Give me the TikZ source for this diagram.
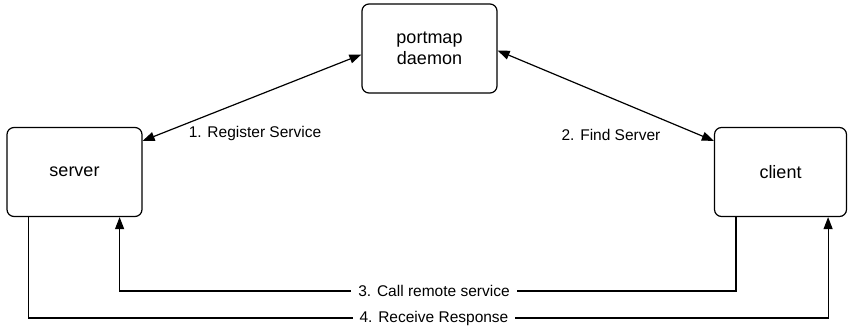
\documentclass[tikz,border=0pt]{standalone}
\usepackage{fontspec}
\setmainfont{Liberation Sans}
\usetikzlibrary{arrows.meta,positioning,calc}

\begin{document}
\begin{tikzpicture}[
  x=1pt,y=-1pt,
  proc/.style={draw,rounded corners=7pt,line width=1.2pt,minimum width=135pt,minimum height=89pt,align=center,font=\fontsize{18}{21}\selectfont},
  arr/.style={-{Triangle[length=12pt,width=9pt]},line width=1.2pt},
  darr/.style={{Triangle[length=12pt,width=9pt]}-{Triangle[length=12pt,width=9pt]},line width=1.2pt},
  ann/.style={font=\fontsize{15.5}{18}\selectfont},
  gap/.style={ann,fill=white,inner xsep=7pt}
]
\useasboundingbox (0,0) rectangle (848,327);
\node[proc] (pm) at (429.5,48.5) {portmap\\daemon};
\node[proc] (srv) at (74.5,172) {server};
\node[proc,minimum width=132pt] (cli) at (780.5,172) {client};
\draw[darr] ([yshift=-6pt]pm.west) -- ([yshift=-14pt]srv.north east);
\draw[darr] ([yshift=-2pt]pm.east) -- ([yshift=-14pt]cli.north west);
\node[ann] (lreg) at (255,133) {1. Register Service};
\node[ann] (lfind) at (611,135) {2. Find Server};
% request and reply under the boxes
\coordinate (call) at (434,291);
\coordinate (resp) at (434,318);
\draw[arr] ([xshift=22pt]cli.south west) |- (call) node[gap] (lcall) {3. Call remote service} -| ([xshift=-23pt]srv.south east);
\draw[arr] ([xshift=22pt]srv.south west) |- (resp) node[gap] (lresp) {4. Receive Response} -| ([xshift=-19pt]cli.south east);
\end{tikzpicture}
\end{document}
